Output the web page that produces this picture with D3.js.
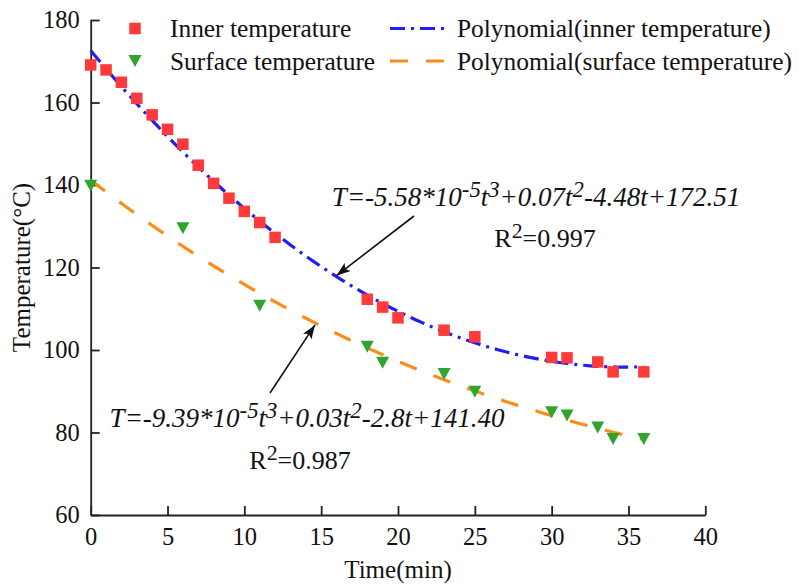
<!DOCTYPE html>
<html>
<head>
<meta charset="utf-8">
<script src="https://cdn.jsdelivr.net/npm/d3@7"></script>
<style>
  body { margin: 0; background: #fff; }
  text { font-family: "Liberation Serif", "Times New Roman", serif; fill: #111; }
</style>
</head>
<body>
<svg id="chart" width="799" height="585"></svg>
<script>
// Measured temperatures during cooling
const innerTime = [0, 1, 2, 3, 4, 5, 6, 7, 8, 9, 10, 11, 12, 18, 19, 20, 23, 25, 30, 31, 33, 34, 36];
const innerTemp = [169.1, 167.9, 164.9, 161.0, 157.0, 153.5, 149.9, 144.8, 140.4, 136.8, 133.6, 130.9, 127.3,
                   112.3, 110.4, 107.8, 104.8, 103.2, 98.2, 98.1, 97.1, 94.7, 94.7];
const surfaceTime = [0, 6, 11, 18, 19, 23, 25, 30, 31, 33, 34, 36];
const surfaceTemp = [139.8, 129.5, 110.7, 100.8, 96.9, 94.2, 89.9, 84.9, 84.1, 81.2, 78.4, 78.4];

const xTicks = [0, 5, 10, 15, 20, 25, 30, 35, 40];
const yTicks = [60, 80, 100, 120, 140, 160, 180];

const seriesNames = ["Inner temperature", "Surface temperature",
                     "Polynomial(inner temperature)", "Polynomial(surface temperature)"];
const innerEquation = [["T=-5.58*10", 0], ["-5", 1], ["t", 0], ["3", 1], ["+0.07t", 0], ["2", 1], ["-4.48t+172.51", 0]];
const surfaceEquation = [["T=-9.39*10", 0], ["-5", 1], ["t", 0], ["3", 1], ["+0.03t", 0], ["2", 1], ["-2.8t+141.40", 0]];
const innerR2 = [["R", 0], ["2", 1], ["=0.997", 0]];
const surfaceR2 = [["R", 0], ["2", 1], ["=0.987", 0]];

const RED = "#ff3a3a", GREEN = "#2fa42f", BLUE = "#1f1ff2", ORANGE = "#ff8c1a";

// least-squares cubic trend line
function cubicFit(xs, ys) {
  const n = 4;
  const A = Array.from({length: n}, () => new Array(n).fill(0));
  const b = new Array(n).fill(0);
  xs.forEach((x, k) => {
    for (let i = 0; i < n; i++) {
      b[i] += ys[k] * Math.pow(x, i);
      for (let j = 0; j < n; j++) A[i][j] += Math.pow(x, i + j);
    }
  });
  for (let c = 0; c < n; c++) {
    let p = c;
    for (let r = c + 1; r < n; r++) if (Math.abs(A[r][c]) > Math.abs(A[p][c])) p = r;
    [A[c], A[p]] = [A[p], A[c]]; [b[c], b[p]] = [b[p], b[c]];
    for (let r = c + 1; r < n; r++) {
      const f = A[r][c] / A[c][c];
      for (let j = c; j < n; j++) A[r][j] -= f * A[c][j];
      b[r] -= f * b[c];
    }
  }
  const coef = new Array(n).fill(0);
  for (let i = n - 1; i >= 0; i--) {
    let s = b[i];
    for (let j = i + 1; j < n; j++) s -= A[i][j] * coef[j];
    coef[i] = s / A[i][i];
  }
  return t => coef[0] + coef[1] * t + coef[2] * t * t + coef[3] * t * t * t;
}

const svg = d3.select("#chart");
const x = d3.scaleLinear().domain([0, 40]).range([90.7, 705.3]);
const y = d3.scaleLinear().domain([60, 180]).range([515, 20]);

// axes
const xAxis = svg.append("g").attr("transform", `translate(0,${y(60)})`)
  .call(d3.axisBottom(x).tickValues(xTicks).tickSizeInner(-9).tickSizeOuter(0).tickPadding(13));
const yAxis = svg.append("g").attr("transform", `translate(${x(0)},0)`)
  .call(d3.axisLeft(y).tickValues(yTicks).tickSizeInner(-9).tickSizeOuter(0).tickPadding(11));
[xAxis, yAxis].forEach(g => {
  g.attr("font-family", null).attr("font-size", null);
  g.selectAll("path, line").attr("stroke", "#222").attr("stroke-width", 1.8);
  g.selectAll("text").attr("font-size", 24.5).attr("fill", "#111")
    .attr("font-family", "'Liberation Serif', 'Times New Roman', serif");
});

svg.append("text").attr("x", (x(0) + x(40)) / 2).attr("y", 578)
  .attr("text-anchor", "middle").attr("font-size", 25).text("Time(min)");
svg.append("text").attr("transform", `translate(30,${(y(60) + y(180)) / 2}) rotate(-90)`)
  .attr("text-anchor", "middle").attr("font-size", 25).text("Temperature(°C)");

// trend lines
const tGrid = d3.range(0, 36.001, 0.25);
const innerFit = cubicFit(innerTime, innerTemp);
const surfaceFit = cubicFit(surfaceTime, surfaceTemp);
const line = f => d3.line().x(t => x(t)).y(t => y(f(t)));

svg.append("path").attr("d", line(innerFit)(tGrid))
  .attr("fill", "none").attr("stroke", BLUE).attr("stroke-width", 3.2)
  .attr("stroke-dasharray", "15,6,3,6");
svg.append("path").attr("d", line(surfaceFit)(tGrid))
  .attr("fill", "none").attr("stroke", ORANGE).attr("stroke-width", 3.2)
  .attr("stroke-dasharray", "18,18");

// markers
const sq = 11.5, triW = 13, triH = 12;
const triPath = `M${-triW / 2},${-triH / 2}L${triW / 2},${-triH / 2}L0,${triH / 2}Z`;

svg.append("g").selectAll("rect").data(innerTime.map((t, i) => [t, innerTemp[i]])).join("rect")
  .attr("x", d => x(d[0]) - sq / 2).attr("y", d => y(d[1]) - sq / 2)
  .attr("width", sq).attr("height", sq).attr("fill", RED);
svg.append("g").selectAll("path").data(surfaceTime.map((t, i) => [t, surfaceTemp[i]])).join("path")
  .attr("transform", d => `translate(${x(d[0])},${y(d[1])})`)
  .attr("d", triPath).attr("fill", GREEN);

// legend
const lg = svg.append("g").attr("font-size", 25.4);
lg.append("rect").attr("x", 135 - sq / 2).attr("y", 28.5 - sq / 2).attr("width", sq).attr("height", sq).attr("fill", RED);
lg.append("path").attr("transform", "translate(135,61)").attr("d", triPath).attr("fill", GREEN);
lg.append("text").attr("x", 170).attr("y", 37).text(seriesNames[0]);
lg.append("text").attr("x", 170).attr("y", 69.5).text(seriesNames[1]);
lg.append("line").attr("x1", 390).attr("x2", 447).attr("y1", 28.5).attr("y2", 28.5)
  .attr("stroke", BLUE).attr("stroke-width", 3.2).attr("stroke-dasharray", "15,6,3,6");
lg.append("line").attr("x1", 390).attr("x2", 447).attr("y1", 61).attr("y2", 61)
  .attr("stroke", ORANGE).attr("stroke-width", 3.2).attr("stroke-dasharray", "18,18");
lg.append("text").attr("x", 457).attr("y", 37).text(seriesNames[2]);
lg.append("text").attr("x", 457).attr("y", 69.5).text(seriesNames[3]);

// equation labels with superscripts
function richText(parts, cx, by, size, italic) {
  const t = svg.append("text").attr("x", cx).attr("y", by).attr("text-anchor", "middle")
    .attr("font-size", size).attr("font-style", italic ? "italic" : "normal");
  let raised = false;
  parts.forEach(([s, sup]) => {
    const sp = t.append("tspan").text(s);
    if (sup && !raised) { sp.attr("dy", -9.5).attr("font-size", size * 0.84); raised = true; }
    else if (sup) { sp.attr("font-size", size * 0.84); }
    else if (!sup && raised) { sp.attr("dy", 9.5); raised = false; }
  });
  return t;
}
richText(innerEquation, 536, 206, 27, true);
richText(innerR2, 545, 247, 26, false);
richText(surfaceEquation, 307, 427, 27, true);
richText(surfaceR2, 300, 469, 26, false);

// arrows pointing to the fitted curves
const defs = svg.append("defs");
defs.append("marker").attr("id", "arrowhead").attr("markerUnits", "userSpaceOnUse")
  .attr("viewBox", "0 0 14 10").attr("refX", 14).attr("refY", 5)
  .attr("markerWidth", 14).attr("markerHeight", 10).attr("orient", "auto")
  .append("path").attr("d", "M0,0L14,5L0,10L3,5Z").attr("fill", "#111");

svg.append("line").attr("x1", 414).attr("y1", 216).attr("x2", x(16)).attr("y2", y(innerFit(16)) - 1)
  .attr("stroke", "#111").attr("stroke-width", 1.6).attr("marker-end", "url(#arrowhead)");
svg.append("line").attr("x1", 270).attr("y1", 393).attr("x2", 315).attr("y2", y(surfaceFit((315 - x(0)) / (x(1) - x(0)))) + 2)
  .attr("stroke", "#111").attr("stroke-width", 1.6).attr("marker-end", "url(#arrowhead)");
</script>
</body>
</html>
